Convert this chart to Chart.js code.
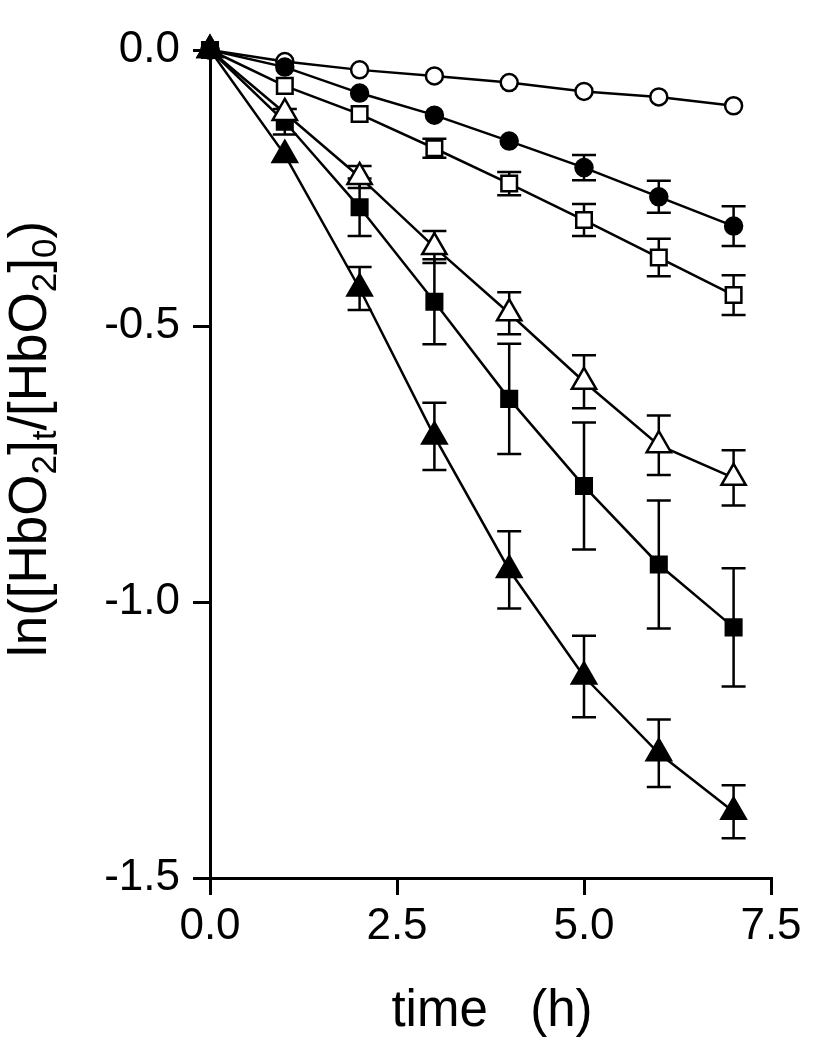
<!DOCTYPE html>
<html lang="en">
<head>
<meta charset="UTF-8">
<title>ln([HbO2]t/[HbO2]0) vs time</title>
<script src="https://cdn.jsdelivr.net/npm/chart.js"></script>
<style>
  html, body { margin: 0; padding: 0; background: #fff; }
  #wrap { width: 835px; height: 1050px; }
</style>
</head>
<body>
<div id="wrap"><canvas id="chart" width="835" height="1050"></canvas></div>
<script>
// time points (h)
const times = [0, 1, 2, 3, 4, 5, 6, 7];

// ln([HbO2]t/[HbO2]0) per series, with +/- error (0 = bar hidden by marker)
const openCircle        = [0, -0.021, -0.036, -0.047, -0.059, -0.075, -0.085, -0.101];
const openCircleErr     = [0, 0, 0, 0, 0, 0, 0, 0];
const filledCircle      = [0, -0.031, -0.078, -0.118, -0.165, -0.213, -0.266, -0.319];
const filledCircleErr   = [0, 0, 0, 0, 0, 0.023, 0.029, 0.036];
const openSquare        = [0, -0.065, -0.116, -0.178, -0.242, -0.308, -0.376, -0.444];
const openSquareErr     = [0, 0, 0, 0.017, 0.021, 0.029, 0.034, 0.036];
const openTriangle      = [0, -0.114, -0.230, -0.357, -0.477, -0.601, -0.716, -0.775];
const openTriangleErr   = [0, 0, 0.020, 0.029, 0.038, 0.048, 0.054, 0.050];
const filledSquare      = [0, -0.130, -0.285, -0.456, -0.632, -0.790, -0.932, -1.046];
const filledSquareErr   = [0, 0.023, 0.052, 0.077, 0.100, 0.115, 0.116, 0.107];
const filledTriangle    = [0, -0.190, -0.432, -0.700, -0.942, -1.135, -1.274, -1.380];
const filledTriangleErr = [0, 0, 0.039, 0.061, 0.070, 0.074, 0.061, 0.048];

const xTicks = [0, 2.5, 5, 7.5];
const yTicks = [0, -0.5, -1.0, -1.5];

const FONT = "'Liberation Sans', Arial, sans-serif";

function series(values, errors, style, filled, radius) {
  return {
    data: values.map((v, i) => ({ x: times[i], y: v })),
    errors: errors,
    borderColor: '#000',
    borderWidth: 2.5,
    pointStyle: style,
    pointRadius: radius,
    pointHoverRadius: radius,
    pointBorderWidth: 2.5,
    pointBorderColor: '#000',
    pointBackgroundColor: filled ? '#000' : '#fff',
    tension: 0,
    fill: false,
    clip: false
  };
}

// dataset 0 is painted last (on top)
const datasets = [
  series(filledTriangle, filledTriangleErr, 'triangle', true, 14),
  series(openTriangle, openTriangleErr, 'triangle', false, 14),
  series(filledSquare, filledSquareErr, 'rect', true, 11),
  series(openSquare, openSquareErr, 'rect', false, 11),
  series(filledCircle, filledCircleErr, 'circle', true, 8.5),
  series(openCircle, openCircleErr, 'circle', false, 8.5)
];

// error bars drawn under the markers
const errorBars = {
  id: 'errorBars',
  beforeDatasetsDraw(chart) {
    const ctx = chart.ctx;
    const xs = chart.scales.x, ys = chart.scales.y;
    ctx.save();
    ctx.strokeStyle = '#000';
    ctx.lineWidth = 2.5;
    chart.data.datasets.forEach(ds => {
      ds.data.forEach((p, i) => {
        const e = ds.errors[i];
        if (!e) return;
        const x = xs.getPixelForValue(p.x);
        const top = ys.getPixelForValue(p.y + e);
        const bot = ys.getPixelForValue(p.y - e);
        ctx.beginPath();
        ctx.moveTo(x, top); ctx.lineTo(x, bot);
        ctx.moveTo(x - 12, top); ctx.lineTo(x + 12, top);
        ctx.moveTo(x - 12, bot); ctx.lineTo(x + 12, bot);
        ctx.stroke();
      });
    });
    ctx.restore();
  }
};

// axis titles, y title with subscripts
const axisTitles = {
  id: 'axisTitles',
  afterDraw(chart) {
    const ctx = chart.ctx;
    ctx.save();
    ctx.fillStyle = '#000';
    ctx.textBaseline = 'alphabetic';

    ctx.font = '51px ' + FONT;
    ctx.textAlign = 'center';
    ctx.fillText('time   (h)', 492, 1026);

    const parts = [
      ['ln([HbO', false], ['2', true], [']', false], ['t', true],
      ['/[HbO', false], ['2', true], [']', false], ['0', true], [')', false]
    ];
    const big = 53, small = 35;
    ctx.textAlign = 'left';
    let total = 0;
    parts.forEach(([t, sub]) => {
      ctx.font = (sub ? small : big) + 'px ' + FONT;
      total += ctx.measureText(t).width;
    });
    ctx.translate(46, 439);
    ctx.rotate(-Math.PI / 2);
    let x = -total / 2;
    parts.forEach(([t, sub]) => {
      ctx.font = (sub ? small : big) + 'px ' + FONT;
      ctx.fillText(t, x, sub ? 10 : 0);
      x += ctx.measureText(t).width;
    });
    ctx.restore();
  }
};

new Chart(document.getElementById('chart'), {
  type: 'line',
  data: { datasets: datasets },
  plugins: [errorBars, axisTitles],
  options: {
    responsive: false,
    animation: false,
    events: [],
    layout: { padding: { top: 50, right: 64, left: 0, bottom: 0 } },
    plugins: { legend: { display: false }, tooltip: { enabled: false } },
    scales: {
      x: {
        type: 'linear',
        min: 0,
        max: 7.5,
        afterFit(s) { s.height = 172; },
        afterBuildTicks(s) { s.ticks = xTicks.map(v => ({ value: v })); },
        ticks: {
          color: '#000',
          font: { family: FONT, size: 44 },
          padding: 5,
          maxRotation: 0,
          callback: v => v.toFixed(1)
        },
        grid: { drawOnChartArea: false, drawTicks: true, tickLength: 17, color: '#000', lineWidth: 3 },
        border: { display: true, color: '#000', width: 3 }
      },
      y: {
        type: 'linear',
        min: -1.5,
        max: 0,
        afterFit(s) { s.width = 210; },
        afterBuildTicks(s) { s.ticks = yTicks.map(v => ({ value: v })); },
        ticks: {
          color: '#000',
          font: { family: FONT, size: 44 },
          padding: 13,
          callback: v => v.toFixed(1)
        },
        grid: { drawOnChartArea: false, drawTicks: true, tickLength: 17, color: '#000', lineWidth: 3 },
        border: { display: true, color: '#000', width: 3 }
      }
    }
  }
});
</script>
</body>
</html>
